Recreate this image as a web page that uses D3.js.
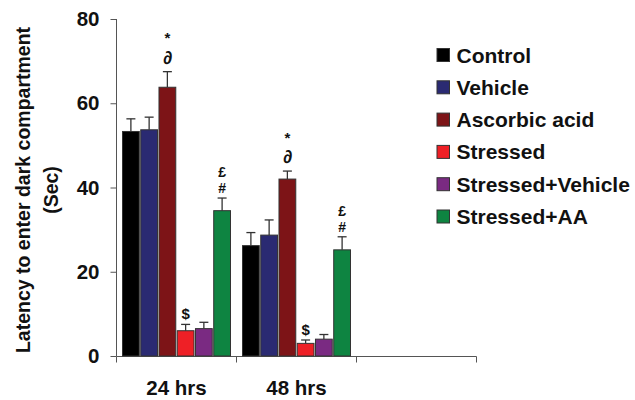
<!DOCTYPE html>
<html>
<head>
<meta charset="utf-8">
<script src="https://cdn.jsdelivr.net/npm/d3@7"></script>
<style>
  body { margin: 0; background: #fff; }
  text { font-family: "Liberation Sans", Arial, sans-serif; font-weight: bold; }
</style>
</head>
<body>
<div id="chart"></div>
<script>
const categories = ['24 hrs', '48 hrs', ''];
const groups = ['Control', 'Vehicle', 'Ascorbic acid', 'Stressed', 'Stressed+Vehicle', 'Stressed+AA'];
const colors = ['#000000', '#2a2a72', '#7d1417', '#ee2026', '#7a2a82', '#0e8441'];
// means per group, one value for each time point
const means24 = [53.3, 53.7, 63.8, 6.0, 6.5, 34.5];
const means48 = [26.2, 28.7, 42.0, 3.0, 4.0, 25.2];
// top of the error bar
const errTop24 = [56.3, 56.7, 67.5, 7.5, 8.0, 37.5];
const errTop48 = [29.3, 32.3, 43.9, 3.8, 5.1, 28.3];
// significance marks, stacked bottom to top
const marks24 = [[], [], ['∂', '*'], ['$'], [], ['#', '£']];
const marks48 = [[], [], ['∂', '*'], ['$'], [], ['#', '£']];
const yTicks = [0, 20, 40, 60, 80];

const width = 635, height = 400;
const svg = d3.select('#chart').append('svg')
  .attr('width', width)
  .attr('height', height);

const x0 = d3.scaleBand().domain(categories).range([116.5, 476.5]);
const x1 = d3.scaleBand().domain(groups).range([6, 114]).paddingInner(0.08);
const y = d3.scaleLinear().domain([0, 80]).range([356, 19]);

const rows = [
  { cat: categories[0], means: means24, tops: errTop24, marks: marks24 },
  { cat: categories[1], means: means48, tops: errTop48, marks: marks48 }
];

// baseline offset above the error bar top for each mark
const markStyle = {
  '∂': { dy: 8, size: 18, weight: 'normal', family: 'DejaVu Sans' },
  '*': { dy: 28.5, size: 15 },
  '#': { dy: 5, size: 14 },
  '£': { dy: 21, size: 14 },
  '$': { dy: 5, size: 15 }
};

// axes
const yAxis = svg.append('g')
  .attr('transform', 'translate(116.5,0)')
  .call(d3.axisLeft(y).tickValues(yTicks).tickSize(6).tickPadding(11).tickSizeOuter(0));
yAxis.select('.domain').attr('stroke', '#555').attr('d', `M0,${y(80)}V${y(0)}`);
yAxis.selectAll('.tick line').attr('stroke', '#555');
yAxis.selectAll('.tick text').attr('font-size', 20.5).attr('fill', '#111');

const xAxis = svg.append('g')
  .attr('transform', 'translate(0,356.5)');
xAxis.append('line')
  .attr('x1', x0.range()[0]).attr('x2', x0.range()[1])
  .attr('stroke', '#555');
xAxis.selectAll('.tk')
  .data(categories.map(c => x0(c)).concat([x0.range()[1]]))
  .join('line')
  .attr('x1', d => d).attr('x2', d => d)
  .attr('y1', 0).attr('y2', 6)
  .attr('stroke', '#555');
xAxis.selectAll('.lbl')
  .data(categories.filter(c => c))
  .join('text')
  .attr('x', d => x0(d) + x0.bandwidth() / 2)
  .attr('y', 38.5)
  .attr('text-anchor', 'middle')
  .attr('font-size', 20.5)
  .attr('fill', '#111')
  .text(d => d);

// bars
rows.forEach(r => {
  const g = svg.append('g').attr('transform', `translate(${x0(r.cat)},0)`);
  groups.forEach((name, i) => {
    const bx = x1(name), bw = x1.bandwidth(), cx = bx + bw / 2;
    g.append('line')
      .attr('x1', cx).attr('x2', cx)
      .attr('y1', y(r.means[i])).attr('y2', y(r.tops[i]))
      .attr('stroke', '#333').attr('stroke-width', 1.3);
    g.append('line')
      .attr('x1', cx - 4.5).attr('x2', cx + 4.5)
      .attr('y1', y(r.tops[i])).attr('y2', y(r.tops[i]))
      .attr('stroke', '#333').attr('stroke-width', 1.3);
    g.append('rect')
      .attr('x', bx).attr('width', bw)
      .attr('y', y(r.means[i]))
      .attr('height', y(0) - y(r.means[i]))
      .attr('fill', colors[i])
      .attr('stroke', '#333').attr('stroke-width', 1);
    r.marks[i].forEach(m => {
      const s = markStyle[m];
      g.append('text')
        .attr('x', cx)
        .attr('y', y(r.tops[i]) - s.dy)
        .attr('text-anchor', 'middle')
        .attr('font-size', s.size)
        .attr('font-weight', s.weight || 'bold')
        .attr('font-family', s.family || null)
        .attr('fill', '#111')
        .text(m);
    });
  });
});

// y title
const yt = svg.append('text')
  .attr('transform', 'translate(30,190) rotate(-90)')
  .attr('text-anchor', 'middle')
  .attr('font-size', 19.5)
  .attr('fill', '#111');
yt.append('tspan').attr('x', 0).attr('dy', 0).text('Latency to enter dark compartment');
yt.append('tspan').attr('x', 0).attr('dy', 28).text('(Sec)');

// legend
const legend = svg.append('g').attr('transform', 'translate(437,48.5)');
groups.forEach((name, i) => {
  const row = legend.append('g').attr('transform', `translate(0,${i * 32.3})`);
  row.append('rect')
    .attr('width', 12.5).attr('height', 13)
    .attr('fill', colors[i])
    .attr('stroke', '#333').attr('stroke-width', 1);
  row.append('text')
    .attr('x', 19.5).attr('y', 14)
    .attr('font-size', 21)
    .attr('fill', '#111')
    .text(name);
});
</script>
</body>
</html>
